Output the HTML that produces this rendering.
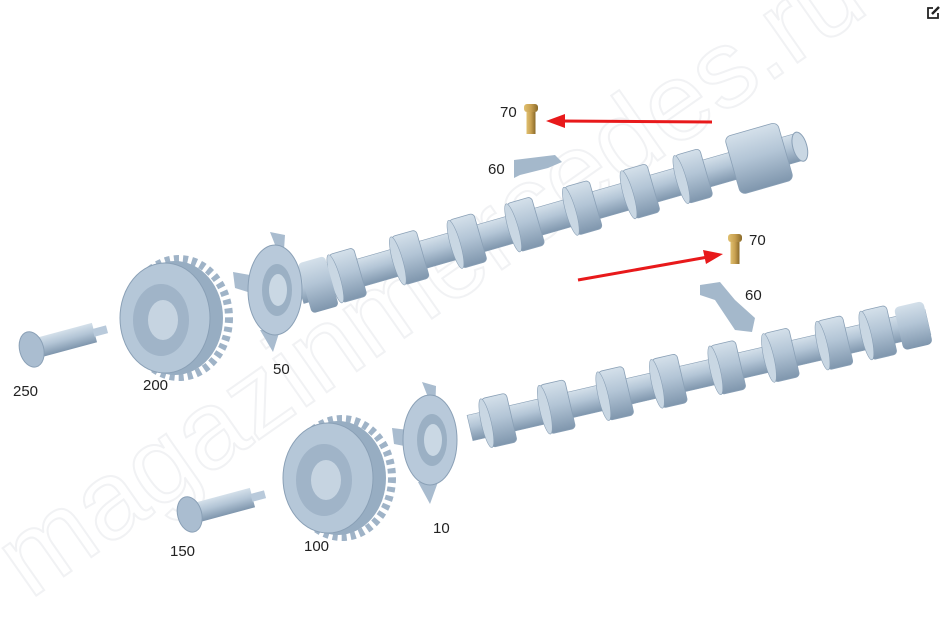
<!DOCTYPE html>
<html><head><meta charset="utf-8"><style>
html,body{margin:0;padding:0;background:#fff;width:943px;height:641px;overflow:hidden}
svg{display:block}
text{font-family:"Liberation Sans",sans-serif;font-size:15px;fill:#222}
</style></head><body>
<svg width="943" height="641" viewBox="0 0 943 641" xmlns="http://www.w3.org/2000/svg">
<defs>
<linearGradient id="sh" x1="0" y1="0" x2="0" y2="1">
<stop offset="0" stop-color="#d4e0ea"/><stop offset="0.45" stop-color="#b3c5d6"/><stop offset="1" stop-color="#7f96ad"/>
</linearGradient>
<linearGradient id="gd" x1="0" y1="0" x2="1" y2="0">
<stop offset="0" stop-color="#e0c070"/><stop offset="0.5" stop-color="#c8a050"/><stop offset="1" stop-color="#8a6a2a"/>
</linearGradient>
<g id="lobe"><rect x="-13" y="-26" width="26" height="50" rx="4" fill="url(#sh)" stroke="#8aa0b6" stroke-width="0.8"/><ellipse cx="-13" cy="-1" rx="5" ry="25" fill="#c9d7e3" stroke="#8aa0b6" stroke-width="0.6"/></g>
<g id="bolt"><rect x="-7" y="-14" width="14" height="8" rx="3" fill="url(#gd)"/><rect x="-4.5" y="-6" width="9" height="22" fill="url(#gd)"/></g>
<g id="phaser">
<ellipse cx="14" cy="0" rx="50" ry="59" fill="none" stroke="#9fb3c7" stroke-width="8" stroke-dasharray="5 4"/>
<ellipse cx="10" cy="0" rx="48" ry="57" fill="#97adc2"/>
<ellipse cx="0" cy="0" rx="45" ry="55" fill="#b5c7d8" stroke="#8aa0b6"/>
<ellipse cx="-4" cy="2" rx="28" ry="36" fill="#a0b4c8"/>
<ellipse cx="-2" cy="2" rx="15" ry="20" fill="#c6d4e1"/>
</g>
</defs>
<!-- watermark -->
<text x="30" y="600" transform="rotate(-35 30 600)" style="font-size:110px;fill:none;stroke:#f1f2f4;stroke-width:2">magazinmercedes.ru</text>

<!-- upper camshaft -->
<g transform="translate(300,290) rotate(-16)">
<rect x="0" y="-14" width="520" height="28" fill="url(#sh)" stroke="#8aa0b6" stroke-width="0.6"/>
<use href="#lobe" x="50"/><use href="#lobe" x="115"/><use href="#lobe" x="175"/><use href="#lobe" x="235"/>
<use href="#lobe" x="295"/><use href="#lobe" x="355"/><use href="#lobe" x="410"/>
<rect x="450" y="-30" width="55" height="60" rx="6" fill="url(#sh)" stroke="#8aa0b6" stroke-width="0.8"/>
<ellipse cx="520" cy="0" rx="7" ry="15" fill="#c9d7e3" stroke="#8aa0b6"/>
<rect x="5" y="-26" width="28" height="52" rx="4" fill="url(#sh)"/>
</g>
<!-- sprocket 50 -->
<g transform="translate(275,290)">
<path d="M-42,-18 L-8,-12 L-8,8 L-40,-2Z M-5,-58 L10,-55 L8,-25Z M-15,40 L5,40 L-2,62Z" fill="#a9bccf"/>
<ellipse cx="0" cy="0" rx="27" ry="45" fill="#b8c9da" stroke="#8aa0b6"/>
<ellipse cx="2" cy="0" rx="15" ry="26" fill="#9bb0c4"/>
<ellipse cx="3" cy="0" rx="9" ry="16" fill="#cad8e4"/>
</g>
<use href="#phaser" x="165" y="318"/>
<!-- valve 250 -->
<g transform="translate(22,352) rotate(-15)">
<rect x="10" y="-10" width="65" height="20" fill="url(#sh)"/>
<rect x="74" y="-4" width="14" height="8" fill="#b9cadb"/>
<ellipse cx="10" cy="0" rx="12" ry="18" fill="#aabdd0" stroke="#8aa0b6"/>
</g>

<!-- lower camshaft -->
<g transform="translate(470,428) rotate(-13)">
<rect x="0" y="-13" width="470" height="26" fill="url(#sh)" stroke="#8aa0b6" stroke-width="0.6"/>
<use href="#lobe" x="30"/><use href="#lobe" x="90"/><use href="#lobe" x="150"/><use href="#lobe" x="205"/>
<use href="#lobe" x="265"/><use href="#lobe" x="320"/><use href="#lobe" x="375"/><use href="#lobe" x="420"/>
<rect x="440" y="-22" width="30" height="44" rx="5" fill="url(#sh)"/>
</g>
<!-- sprocket 10 -->
<g transform="translate(430,440)">
<path d="M-38,-12 L-5,-8 L-5,10 L-36,4Z M-8,-58 L6,-54 L5,-25Z M-12,42 L8,42 L0,64Z" fill="#a9bccf"/>
<ellipse cx="0" cy="0" rx="27" ry="45" fill="#b8c9da" stroke="#8aa0b6"/>
<ellipse cx="2" cy="0" rx="15" ry="26" fill="#9bb0c4"/>
<ellipse cx="3" cy="0" rx="9" ry="16" fill="#cad8e4"/>
</g>
<use href="#phaser" x="328" y="478"/>
<!-- valve 150 -->
<g transform="translate(180,517) rotate(-15)">
<rect x="10" y="-10" width="65" height="20" fill="url(#sh)"/>
<rect x="74" y="-4" width="14" height="8" fill="#b9cadb"/>
<ellipse cx="10" cy="0" rx="12" ry="18" fill="#aabdd0" stroke="#8aa0b6"/>
</g>

<!-- bolts and brackets -->
<use href="#bolt" x="531" y="118"/>
<use href="#bolt" x="735" y="248"/>
<path d="M514,160 L555,155 L562,162 L548,168 L520,175 L514,178Z" fill="#a4b8cb"/>
<path d="M700,285 L720,282 L735,300 L755,318 L752,332 L735,330 L715,300 L700,295Z" fill="#a4b8cb"/>

<!-- arrows -->
<g stroke="#e8191b" stroke-width="3" fill="#e8191b">
<line x1="712" y1="122" x2="560" y2="121"/>
<line x1="578" y1="280" x2="708" y2="257"/>
</g>
<path d="M546,121 L565,114 L565,128Z" fill="#e8191b"/>
<path d="M723,254 L703,250 L706,264Z" fill="#e8191b"/>

<!-- labels -->
<text x="500" y="117">70</text>
<text x="488" y="174">60</text>
<text x="749" y="245">70</text>
<text x="745" y="300">60</text>
<text x="13" y="396">250</text>
<text x="143" y="390">200</text>
<text x="273" y="374">50</text>
<text x="170" y="556">150</text>
<text x="304" y="551">100</text>
<text x="433" y="533">10</text>
<!-- edit icon -->
<g transform="translate(926,5)" stroke="#222" stroke-width="1.8" fill="none">
<path d="M7,3 H2 V13 H12 V8"/><path d="M6,9 L13,2" stroke-width="2.5"/>
</g>
</svg>
</body></html>
